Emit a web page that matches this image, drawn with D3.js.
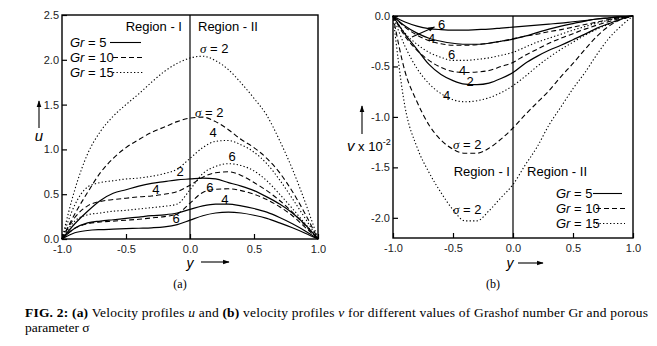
<!DOCTYPE html>
<html><head><meta charset="utf-8">
<script src="https://cdn.jsdelivr.net/npm/d3@7"></script>
<style>body{margin:0;background:#fff}</style>
</head><body>
<svg id="c" width="657" height="346" xmlns="http://www.w3.org/2000/svg"></svg>
<script>
// ---------- data ----------
const yGrid = [-1,-0.9,-0.8,-0.7,-0.6,-0.5,-0.4,-0.3,-0.2,-0.1,0,0.1,0.2,0.3,0.4,0.5,0.6,0.7,0.8,0.9,1];

// (a) velocity u
const uGr5Sig2  = [0,0.17,0.31,0.43,0.51,0.55,0.59,0.62,0.64,0.66,0.67,0.68,0.67,0.63,0.59,0.54,0.47,0.39,0.29,0.16,0];
const uGr5Sig4  = [0,0.12,0.18,0.20,0.215,0.23,0.245,0.26,0.27,0.29,0.33,0.37,0.39,0.39,0.37,0.34,0.30,0.24,0.17,0.09,0];
const uGr5Sig6  = [0,0.07,0.095,0.105,0.11,0.115,0.12,0.125,0.135,0.16,0.21,0.26,0.29,0.30,0.29,0.265,0.23,0.18,0.125,0.065,0];
const uGr10Sig2 = [0,0.28,0.52,0.74,0.90,1.02,1.11,1.19,1.25,1.31,1.35,1.36,1.31,1.22,1.11,1.02,0.90,0.74,0.53,0.28,0];
const uGr10Sig4 = [0,0.24,0.37,0.42,0.44,0.455,0.47,0.48,0.50,0.53,0.60,0.69,0.74,0.75,0.71,0.63,0.54,0.43,0.30,0.15,0];
const uGr10Sig6 = [0,0.12,0.17,0.19,0.20,0.21,0.22,0.235,0.25,0.28,0.40,0.52,0.555,0.56,0.54,0.50,0.44,0.36,0.26,0.13,0];
const uGr15Sig2 = [0,0.55,0.95,1.20,1.37,1.50,1.62,1.75,1.87,1.96,2.02,2.04,1.99,1.89,1.74,1.57,1.38,1.10,0.78,0.41,0];
const uGr15Sig4 = [0,0.38,0.58,0.63,0.65,0.67,0.68,0.70,0.73,0.78,0.90,1.02,1.09,1.10,1.05,0.97,0.84,0.66,0.45,0.23,0];
const uGr15Sig6 = [0,0.20,0.27,0.29,0.31,0.32,0.335,0.35,0.365,0.39,0.55,0.73,0.81,0.84,0.82,0.76,0.65,0.50,0.34,0.17,0];

// (b) velocity v (x 10^-2)
const vGr5Sig2  = [0,-0.18,-0.33,-0.48,-0.58,-0.64,-0.675,-0.68,-0.665,-0.62,-0.56,-0.47,-0.40,-0.34,-0.29,-0.235,-0.18,-0.12,-0.075,-0.03,0];
const vGr5Sig4  = [0,-0.10,-0.17,-0.22,-0.25,-0.27,-0.28,-0.28,-0.27,-0.25,-0.23,-0.20,-0.165,-0.13,-0.10,-0.075,-0.05,-0.03,-0.018,-0.007,0];
const vGr5Sig6  = [0,-0.06,-0.10,-0.125,-0.135,-0.14,-0.14,-0.135,-0.13,-0.12,-0.11,-0.10,-0.09,-0.08,-0.07,-0.057,-0.045,-0.03,-0.02,-0.008,0];
const vGr10Sig2 = [0,-0.55,-0.85,-1.08,-1.23,-1.32,-1.36,-1.36,-1.31,-1.22,-1.11,-0.98,-0.86,-0.74,-0.60,-0.47,-0.33,-0.20,-0.10,-0.035,0];
const vGr10Sig4 = [0,-0.20,-0.34,-0.44,-0.51,-0.55,-0.56,-0.555,-0.54,-0.50,-0.46,-0.39,-0.33,-0.27,-0.22,-0.175,-0.13,-0.09,-0.055,-0.022,0];
const vGr10Sig6 = [0,-0.11,-0.19,-0.245,-0.275,-0.29,-0.29,-0.285,-0.27,-0.25,-0.225,-0.20,-0.18,-0.155,-0.135,-0.11,-0.085,-0.06,-0.035,-0.015,0];
const vGr15Sig2 = [0,-0.90,-1.30,-1.55,-1.75,-1.92,-2.03,-2.03,-1.93,-1.80,-1.67,-1.48,-1.30,-1.08,-0.90,-0.72,-0.56,-0.38,-0.22,-0.10,0];
const vGr15Sig4 = [0,-0.30,-0.52,-0.67,-0.77,-0.83,-0.85,-0.84,-0.81,-0.76,-0.69,-0.60,-0.50,-0.41,-0.33,-0.26,-0.19,-0.13,-0.08,-0.035,0];
const vGr15Sig6 = [0,-0.17,-0.28,-0.36,-0.41,-0.44,-0.44,-0.43,-0.415,-0.39,-0.36,-0.31,-0.26,-0.22,-0.18,-0.14,-0.105,-0.07,-0.04,-0.015,0];

const grValues = [5, 10, 15];
const xTicks = [-1, -0.5, 0, 0.5, 1];
const xTickLabels = ["-1.0", "-0.5", "0.0", "0.5", "1.0"];
const uTicks = [0, 0.5, 1, 1.5, 2, 2.5];
const uTickLabels = ["0.0", "0.5", "1.0", "1.5", "2.0", "2.5"];
const vTicks = [0, -0.5, -1, -1.5, -2];
const vTickLabels = ["0.0", "-0.5", "-1.0", "-1.5", "-2.0"];

// ---------- drawing ----------
const svg = d3.select("#c");
const FONT = "Liberation Sans, Arial, sans-serif";
const SERIF = "Liberation Serif, Times New Roman, serif";
const dashFor = {5: null, 10: "5,3", 15: "1.3,2.2"};

const uSeries = [
  {gr:5, v:uGr5Sig2},{gr:5, v:uGr5Sig4},{gr:5, v:uGr5Sig6},
  {gr:10,v:uGr10Sig2},{gr:10,v:uGr10Sig4},{gr:10,v:uGr10Sig6},
  {gr:15,v:uGr15Sig2},{gr:15,v:uGr15Sig4},{gr:15,v:uGr15Sig6}];
const vSeries = [
  {gr:5, v:vGr5Sig2},{gr:5, v:vGr5Sig4},{gr:5, v:vGr5Sig6},
  {gr:10,v:vGr10Sig2},{gr:10,v:vGr10Sig4},{gr:10,v:vGr10Sig6},
  {gr:15,v:vGr15Sig2},{gr:15,v:vGr15Sig4},{gr:15,v:vGr15Sig6}];

svg.append("defs").append("marker").attr("id","arr").attr("viewBox","0 0 10 10")
  .attr("refX",9).attr("refY",5).attr("markerWidth",6).attr("markerHeight",6)
  .attr("orient","auto").append("path").attr("d","M0,1.5 L10,5 L0,8.5 Z").attr("fill","#000");

function panel(xRange, yDomain, yRange, series, yTicks, yTickLabels) {
  const x = d3.scaleLinear().domain([-1,1]).range(xRange);
  const y = d3.scaleLinear().domain(yDomain).range(yRange);
  const g = svg.append("g");
  const line = d3.line().x((d,i)=>x(yGrid[i])).y(d=>y(d)).curve(d3.curveMonotoneX);
  series.forEach(s=>{
    g.append("path").attr("d", line(s.v)).attr("fill","none").attr("stroke","#000")
      .attr("stroke-width", s.gr===5?1.2:1.1)
      .attr("stroke-dasharray", dashFor[s.gr]);
  });
  g.append("line").attr("x1",x(0)).attr("x2",x(0)).attr("y1",yRange[1]).attr("y2",yRange[0])
    .attr("stroke","#000").attr("stroke-width",1.2);
  const ax = g.append("g").attr("transform",`translate(0,${yRange[0]})`)
    .call(d3.axisBottom(x).tickValues(xTicks).tickSize(-5).tickPadding(6)
      .tickFormat((d,i)=>xTickLabels[i]));
  const ay = g.append("g").attr("transform",`translate(${xRange[0]},0)`)
    .call(d3.axisLeft(y).tickValues(yTicks).tickSize(-5).tickPadding(3)
      .tickFormat((d,i)=>yTickLabels[i]));
  [ax, ay].forEach(a=>{
    a.select(".domain").remove();
    a.selectAll("line").attr("stroke","#000").attr("stroke-width",1.2);
    a.selectAll("text").attr("font-family",FONT).attr("font-size","11px").attr("fill","#222");
  });
  g.append("rect").attr("x",xRange[0]).attr("y",yRange[1])
    .attr("width",xRange[1]-xRange[0]).attr("height",yRange[0]-yRange[1])
    .attr("fill","none").attr("stroke","#000").attr("stroke-width",1.4);
  return {x, y, g};
}

function txt(g, px, py, s, anchor, size) {
  return g.append("text").attr("x",px).attr("y",py).attr("text-anchor",anchor||"middle")
    .attr("font-family",FONT).attr("font-size",(size||13)+"px").attr("fill","#000").text(s);
}
function sigmaLabel(g, px, py) {
  const t = g.append("text").attr("x",px).attr("y",py).attr("font-family",FONT)
    .attr("font-size","13px").attr("fill","#000");
  t.append("tspan").attr("font-family",SERIF).attr("font-style","italic").text("σ");
  t.append("tspan").text(" = 2");
}
function legend(g, lx, ly, lineX1, lineLen) {
  grValues.forEach((gr,i)=>{
    const t = g.append("text").attr("x",lx).attr("y",ly+i*15).attr("font-family",FONT)
      .attr("font-size","13px").attr("fill","#000");
    t.append("tspan").attr("font-style","italic").text("Gr");
    t.append("tspan").text(" = " + gr);
    const x1 = lineX1 + (gr===5?0:3);
    g.append("line").attr("x1",x1).attr("x2",x1+lineLen).attr("y1",ly+i*15-4.5).attr("y2",ly+i*15-4.5)
      .attr("stroke","#000").attr("stroke-width",1.1).attr("stroke-dasharray",dashFor[gr]);
  });
}
function arrow(g, x1, y1, x2, y2) {
  g.append("line").attr("x1",x1).attr("y1",y1).attr("x2",x2).attr("y2",y2)
    .attr("stroke","#000").attr("stroke-width",1.1).attr("marker-end","url(#arr)");
}

// ---- panel (a) ----
const A = panel([62,318],[0,2.5],[239,15],uSeries,uTicks,uTickLabels);
txt(A.g, A.x(-0.0625), A.y(2.32), "Region - I", "end");
txt(A.g, A.x(0.0625), A.y(2.32), "Region - II", "start");
legend(A.g, 70, 47, 110, 31);
sigmaLabel(A.g, A.x(0.078), A.y(2.076));
sigmaLabel(A.g, A.x(0.039), A.y(1.36));
txt(A.g, A.x(0.18), A.y(1.14), "4");
txt(A.g, A.x(0.33), A.y(0.87), "6");
txt(A.g, A.x(-0.078), A.y(0.70), "2");
txt(A.g, A.x(-0.266), A.y(0.50), "4");
txt(A.g, A.x(0.156), A.y(0.525), "6");
txt(A.g, A.x(0.273), A.y(0.39), "4");
txt(A.g, A.x(-0.109), A.y(0.18), "6");
txt(A.g, 39, 141, "u", "middle", 15).attr("font-style","italic");
arrow(A.g, 39, 128, 39, 101);
txt(A.g, 190, 268, "y", "middle", 14).attr("font-style","italic");
arrow(A.g, 201, 262, 229, 262);
txt(A.g, 180, 288, "(a)", "middle", 12).attr("font-family",SERIF);

// ---- panel (b) ----
const B = panel([393,633],[-2.2,0],[238,16],vSeries,vTicks,vTickLabels);
txt(B.g, B.x(-0.025), B.y(-1.59), "Region - I", "end");
txt(B.g, B.x(0.117), B.y(-1.59), "Region - II", "start");
legend(B.g, 556, 198, 593, 29);
txt(B.g, B.x(-0.594), B.y(-0.129), "6");
arrow(B.g, B.x(-0.842), B.y(-0.208), B.x(-0.655), B.y(-0.11));
txt(B.g, B.x(-0.678), B.y(-0.263), "4");
txt(B.g, B.x(-0.511), B.y(-0.431), "6");
txt(B.g, B.x(-0.419), B.y(-0.58), "4");
txt(B.g, B.x(-0.358), B.y(-0.689), "2");
txt(B.g, B.x(-0.553), B.y(-0.828), "4");
sigmaLabel(B.g, B.x(-0.5), B.y(-1.318));
sigmaLabel(B.g, B.x(-0.5), B.y(-1.962));
{
  const t = B.g.append("text").attr("x",347).attr("y",151).attr("font-family",FONT)
    .attr("font-size","13px").attr("fill","#000");
  t.append("tspan").attr("font-style","italic").attr("font-size","15px").text("v");
  t.append("tspan").text(" x 10");
  t.append("tspan").attr("font-size","9px").attr("dy",-6).text("-2");
}
arrow(B.g, 362, 134, 362, 106);
txt(B.g, 510, 268, "y", "middle", 14).attr("font-style","italic");
arrow(B.g, 518, 263, 543, 263);
txt(B.g, 493, 288, "(b)", "middle", 12).attr("font-family",SERIF);

// ---- caption ----
const cap = svg.append("text").attr("x",25).attr("y",317).attr("font-family",SERIF)
  .attr("font-size","13.5px").attr("fill","#000")
  .attr("textLength",623).attr("lengthAdjust","spacing");
cap.append("tspan").attr("font-weight","bold").text("FIG. 2:");
cap.append("tspan").text(" ");
cap.append("tspan").attr("font-weight","bold").text("(a)");
cap.append("tspan").text(" Velocity profiles ");
cap.append("tspan").attr("font-style","italic").text("u");
cap.append("tspan").text(" and ");
cap.append("tspan").attr("font-weight","bold").text("(b)");
cap.append("tspan").text(" velocity profiles ");
cap.append("tspan").attr("font-style","italic").text("v");
cap.append("tspan").text(" for different values of Grashof number Gr and porous");
svg.append("text").attr("x",25).attr("y",332).attr("font-family",SERIF)
  .attr("font-size","13.5px").attr("fill","#000").text("parameter σ");
</script>
</body></html>
